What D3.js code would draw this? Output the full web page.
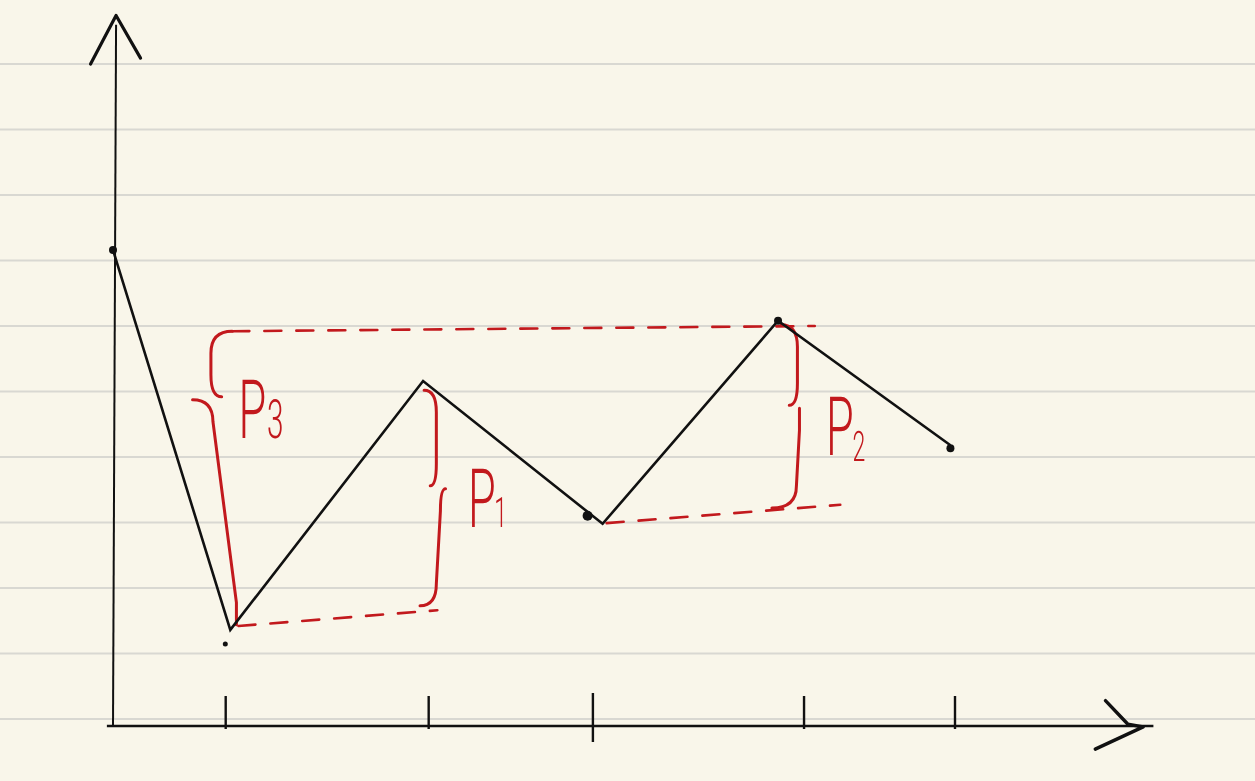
<!DOCTYPE html>
<html>
<head>
<meta charset="utf-8">
<script src="https://cdn.jsdelivr.net/npm/d3@7"></script>
<style>
  html, body { margin: 0; padding: 0; background: #f9f6ea; }
  svg { display: block; }
  .lbl { text-rendering: geometricPrecision; }
</style>
</head>
<body>
<svg id="chart" width="1255" height="781"></svg>
<script>
// series (x in tick units, y in ruled-line units)
var xVals = [0, 1.15, 3.04, 4.80, 6.52, 8.21]
var yVals = [7.16, 1.36, 5.16, 2.98, 6.08, 4.18]
var tickVals = [1.10, 3.09, 4.70, 6.77, 8.25]
var ruleVals = [0, 1, 2, 3, 4, 5, 6, 7, 8, 9, 10]

// red dashed guide lines [x1, y1, x2, y2]
var guideTop = [1.17, 5.92, 6.88, 6.00]
var guideLow = [1.23, 1.42, 3.18, 1.66]
var guideMid = [4.84, 2.99, 7.13, 3.27]

// braces: end x, top y, mid y, bottom y, body x (upper), body x (lower top / lower bottom), bottom end x, cusp x
var braceNames = ["P", "P", "P"]
var braceSubs = ["3", "1", "2"]
var braceTopEnd = [1.17, 3.05, 6.55]
var braceTop = [5.92, 5.02, 6.02]
var braceMid = [4.92, 3.56, 4.79]
var braceBot = [1.44, 1.73, 3.22]
var braceBodyUp = [0.96, 3.17, 6.71]
var braceBodyLowTop = [0.98, 3.21, 6.73]
var braceBodyLowBot = [1.21, 3.17, 6.70]
var braceBotEnd = [1.21, 3.01, 6.46]
var braceCusp = [0.78, 3.26, 6.73]
var labelX = [1.23, 3.48, 6.99]
var labelY = [4.29, 2.93, 4.03]

var svg = d3.select("#chart")
var x = d3.scaleLinear().domain([0, 10]).range([113, 1133])
var y = d3.scaleLinear().domain([0, 10]).range([719, 64])
var red = "#c2191d"

// a no-op filter so the labels rasterize without colour fringes
var flt = svg.append("defs").append("filter").attr("id", "flat")
  .attr("x", "-20%").attr("y", "-20%").attr("width", "140%").attr("height", "140%")
flt.append("feOffset").attr("dx", 0).attr("dy", 0)

// ruled paper
svg.append("g").selectAll("line").data(ruleVals).join("line")
  .attr("x1", 0).attr("x2", 1255)
  .attr("y1", d => y(d)).attr("y2", d => y(d))
  .attr("stroke", "#d9d8d2").attr("stroke-width", 2.2)

var axisY = y(-0.107)

// x axis with ticks pointing up
var xAxis = d3.axisBottom(x).tickValues(tickVals).tickSize(-33).tickFormat("")
var gx = svg.append("g").attr("transform", `translate(0,${axisY + 3})`).call(xAxis)
gx.select(".domain").remove()
gx.selectAll(".tick line").attr("stroke", "#111").attr("stroke-width", 2.4)
gx.selectAll(".tick").filter((d, i) => i === 2).select("line").attr("y2", -36).attr("y1", 13)

svg.append("line")
  .attr("x1", x(-0.06)).attr("x2", x(10.2))
  .attr("y1", axisY).attr("y2", axisY)
  .attr("stroke", "#111").attr("stroke-width", 2.6)

svg.append("line")
  .attr("x1", x(0)).attr("x2", x(0.03))
  .attr("y1", axisY).attr("y2", y(10.6))
  .attr("stroke", "#111").attr("stroke-width", 2)

// arrow heads
var arrow = d3.line().curve(d3.curveLinear)
svg.append("path")
  .attr("d", arrow([[x(-0.22), y(10.0)], [x(0.03), y(10.74)], [x(0.27), y(10.09)]]))
  .attr("fill", "none").attr("stroke", "#111").attr("stroke-width", 3.2)
  .attr("stroke-linecap", "round").attr("stroke-linejoin", "round")
svg.append("path")
  .attr("d", arrow([[x(9.73), y(0.28)], [x(9.95), y(-0.08)], [x(10.1), y(-0.12)], [x(9.63), y(-0.46)]]))
  .attr("fill", "none").attr("stroke", "#111").attr("stroke-width", 3.4)
  .attr("stroke-linecap", "round").attr("stroke-linejoin", "round")

// red dashed guides
var guides = [guideTop, guideLow, guideMid]
svg.append("g").selectAll("line").data(guides).join("line")
  .attr("x1", d => x(d[0])).attr("y1", d => y(d[1]))
  .attr("x2", d => x(d[2])).attr("y2", d => y(d[3]))
  .attr("stroke", red).attr("stroke-width", 2.6)
  .attr("stroke-dasharray", "17,15").attr("stroke-linecap", "round")

// braces, drawn in two pieces like the pen strokes
braceNames.forEach(function (name, i) {
  var e = x(braceTopEnd[i]), b = x(braceBodyUp[i])
  var bt = x(braceBodyLowTop[i]), bb = x(braceBodyLowBot[i])
  var eb = x(braceBotEnd[i]), c = x(braceCusp[i])
  var yt = y(braceTop[i]), ym = y(braceMid[i]), yb = y(braceBot[i])
  var r = 22
  var up = d3.path()
  up.moveTo(e, yt)
  up.quadraticCurveTo(b, yt, b, yt + r)
  up.lineTo(b, ym - r)
  up.quadraticCurveTo(b, ym, b + (e - b) * 0.5, ym)
  var low = d3.path()
  low.moveTo(c, ym + 3)
  low.quadraticCurveTo(bt, ym + 3, bt, ym + r + 3)
  low.lineTo(bb, yb - r)
  low.quadraticCurveTo(bb, yb, eb, yb)
  svg.append("path").attr("d", up.toString())
    .attr("fill", "none").attr("stroke", red).attr("stroke-width", 3).attr("stroke-linecap", "round")
  svg.append("path").attr("d", low.toString())
    .attr("fill", "none").attr("stroke", red).attr("stroke-width", 3).attr("stroke-linecap", "round")

  var g = svg.append("g").attr("class", "lbl").attr("filter", "url(#flat)")
    .attr("transform", `translate(${x(labelX[i])},${y(labelY[i])}) scale(0.55,1)`)
  g.append("text")
    .attr("fill", red)
    .style("font-family", "Roboto, 'DejaVu Sans', sans-serif")
    .style("font-weight", 300)
    .style("font-size", "82px")
    .text(name)
  g.append("text")
    .attr("x", i === 0 ? 52 : 48)
    .attr("y", i === 2 ? 6 : 0)
    .attr("fill", red)
    .style("font-family", "Roboto, 'DejaVu Sans', sans-serif")
    .style("font-weight", 300)
    .style("font-size", i === 0 ? "54px" : "42px")
    .text(braceSubs[i])
})

// main polyline
var line = d3.line().x((d, i) => x(xVals[i])).y((d, i) => y(yVals[i]))
svg.append("path").attr("d", line(xVals))
  .attr("fill", "none").attr("stroke", "#111").attr("stroke-width", 2.6)
  .attr("stroke-linejoin", "miter")

// pen dots at the vertices
var dotIdx = [0, 1, 3, 4, 5]
var dotDx = [0, -5, -15, 0, 0]
var dotDy = [0, 14, -8, 0, 3]
svg.append("g").selectAll("circle").data(dotIdx).join("circle")
  .attr("cx", (d, i) => x(xVals[d]) + dotDx[i])
  .attr("cy", (d, i) => y(yVals[d]) + dotDy[i])
  .attr("r", (d, i) => i === 2 ? 5 : (i === 1 ? 2.5 : 4))
  .attr("fill", "#111")
</script>
</body>
</html>
